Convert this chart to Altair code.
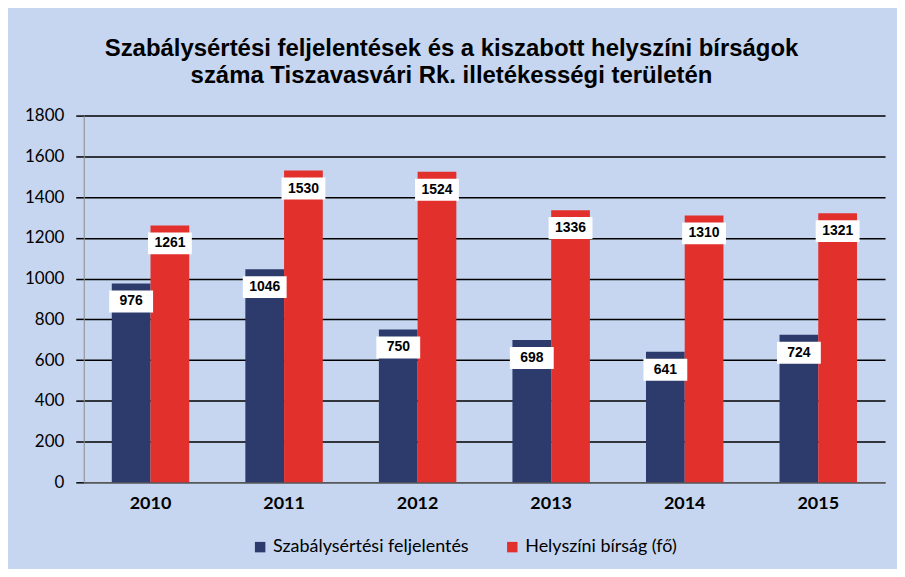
import altair as alt
import pandas as pd

years = ["2010", "2011", "2012", "2013", "2014", "2015"]
feljelentes = [976, 1046, 750, 698, 641, 724]
birsag = [1261, 1530, 1524, 1336, 1310, 1321]
series_names = ["Szabálysértési feljelentés", "Helyszíni bírság (fő)"]
colors = ["#2c3a6c", "#e2302d"]

rows = []
for i, y in enumerate(years):
    rows.append({"year": y, "series": series_names[0], "value": feljelentes[i]})
    rows.append({"year": y, "series": series_names[1], "value": birsag[i]})
df = pd.DataFrame(rows)

x_enc = alt.X("year:N", sort=years, title=None,
              scale=alt.Scale(paddingInner=0.42, paddingOuter=0.21),
              axis=alt.Axis(labelAngle=0, labelFont="Lato", labelFontWeight="bold",
                            labelFontSize=18, labelColor="black", labelPadding=12,
                            ticks=False, domainColor="#8a8a8a", domainWidth=1))
xoff = alt.XOffset("series:N", sort=series_names, scale=alt.Scale(paddingInner=0, paddingOuter=0))
y_enc = alt.Y("value:Q", title=None,
              scale=alt.Scale(domain=[0, 1800], nice=False),
              axis=alt.Axis(values=list(range(0, 1801, 200)), format="d", labelFont="Lato",
                            labelFontSize=17, labelColor="black", labelPadding=12,
                            tickSize=8, tickColor="black", tickWidth=1.5,
                            gridColor="black", gridWidth=1.5, domainColor="#8a8a8a"))

bars = alt.Chart(df).mark_bar().encode(
    x=x_enc, xOffset=xoff, y=y_enc,
    color=alt.Color("series:N", sort=series_names,
                    scale=alt.Scale(domain=series_names, range=colors),
                    legend=alt.Legend(title=None, orient="none", direction="horizontal",
                                      legendX=168, legendY=424, columns=2, columnPadding=34,
                                      symbolType="square", symbolSize=110, symbolStrokeWidth=0,
                                      labelFont="Lato", labelFontSize=18, labelColor="black",
                                      labelLimit=400))
)

boxes = alt.Chart(df).mark_point(
    shape="M-1,-0.5H1V0.5H-1Z", filled=True, color="white", opacity=1, size=1936, yOffset=18
).encode(x=alt.X("year:N", sort=years), xOffset=alt.XOffset("series:N", sort=series_names), y="value:Q")

labels = alt.Chart(df).mark_text(
    font="Liberation Sans", fontWeight="bold", fontSize=14, color="black", yOffset=18, baseline="middle"
).encode(x=alt.X("year:N", sort=years), xOffset=alt.XOffset("series:N", sort=series_names),
         y="value:Q", text="value:Q")

chart = alt.layer(bars, boxes, labels).properties(
    width=804, height=368,
    padding={"left": 76, "top": 107, "right": 12, "bottom": 86},
    autosize=alt.AutoSizeParams(type="none"),
    background="#c6d6f0",
    title=alt.TitleParams(
        text=["Szabálysértési feljelentések és a kiszabott helyszíni bírságok",
              "száma Tiszavasvári Rk. illetékességi területén"],
        font="Liberation Sans", fontSize=24, fontWeight="bold", color="black",
        anchor="middle", dx=-33, offset=19, lineHeight=27),
).configure_view(stroke=None)

chart.save("out.html", embed_options={"renderer": "svg", "actions": False})
